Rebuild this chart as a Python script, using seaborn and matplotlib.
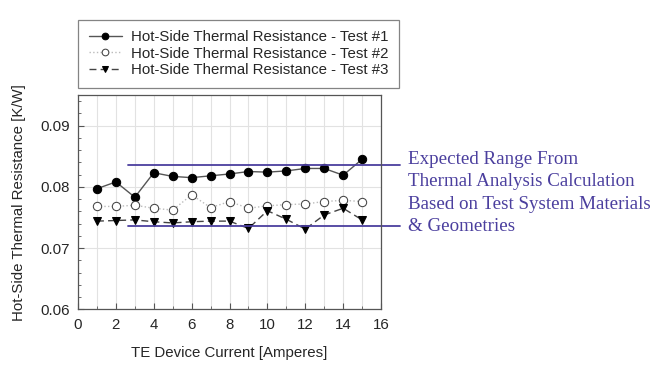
import matplotlib
matplotlib.use("Agg")
import matplotlib.pyplot as plt
import seaborn as sns
from matplotlib.ticker import MultipleLocator

sns.set_style("white")
plt.rcParams['font.family'] = ['Liberation Sans', 'DejaVu Sans']

current = list(range(1, 16))
test1 = [0.0797, 0.0808, 0.0783, 0.0823, 0.0817, 0.0815, 0.0818, 0.0821,
         0.0825, 0.0824, 0.0826, 0.0830, 0.0830, 0.0819, 0.0845]
test2 = [0.0768, 0.0768, 0.0770, 0.0765, 0.0762, 0.0787, 0.0766, 0.0776,
         0.0765, 0.0769, 0.0771, 0.0772, 0.0776, 0.0778, 0.0776]
test3 = [0.0744, 0.0745, 0.0746, 0.0743, 0.0741, 0.0743, 0.0744, 0.0744,
         0.0732, 0.0761, 0.0747, 0.0731, 0.0754, 0.0765, 0.0746]
labels = ["Hot-Side Thermal Resistance - Test #1",
          "Hot-Side Thermal Resistance - Test #2",
          "Hot-Side Thermal Resistance - Test #3"]
expected_range = [0.0736, 0.0836]
range_x = [2.65, 17.0]
note = ("Expected Range From\nThermal Analysis Calculation\n"
        "Based on Test System Materials\n& Geometries")

blue = "#4b3f9e"
fs = 10.8

fig = plt.figure(figsize=(6.68, 3.71), dpi=100)
ax = fig.add_axes([0.1168, 0.1663, 0.4536, 0.5777])

styles = [
    dict(color="#555555", linestyle="-", marker="o", markerfacecolor="black",
         markeredgecolor="black", markersize=6),
    dict(color="#bbbbbb", linestyle=":", marker="o", markerfacecolor="white",
         markeredgecolor="#444444", markersize=6),
    dict(color="#444444", linestyle=(0, (5, 3)), marker="v", markerfacecolor="black",
         markeredgecolor="black", markersize=6),
]
for vals, lab, st in zip([test1, test2, test3], labels, styles):
    sns.lineplot(x=current, y=vals, ax=ax, label=lab, linewidth=1, **st)

for yv in expected_range:
    ax.plot(range_x, [yv, yv], color=blue, linewidth=1.3, clip_on=False)
ax.text(17.45, 0.0790, note, color=blue, fontsize=13.7, family="Liberation Serif",
        va="center", ha="left", linespacing=1.42)

ax.set_xlim(0, 16)
ax.set_ylim(0.06, 0.095)
ax.xaxis.set_major_locator(MultipleLocator(2))
ax.xaxis.set_minor_locator(MultipleLocator(1))
ax.yaxis.set_major_locator(MultipleLocator(0.01))
ax.yaxis.set_minor_locator(MultipleLocator(0.002))
ax.grid(True, which="major", color="#e2e2e2", linewidth=0.8)
ax.grid(True, which="minor", axis="x", color="#e2e2e2", linewidth=0.8)
ax.tick_params(which="both", direction="in", length=4, color="#555555", labelsize=fs,
               bottom=True, left=True, pad=6)
ax.tick_params(which="minor", length=2.5)
for s in ax.spines.values():
    s.set_color("#555555")
    s.set_linewidth(0.9)

ax.set_xlabel("TE Device Current [Amperes]", fontsize=fs, labelpad=10)
ax.set_ylabel("Hot-Side Thermal Resistance [K/W]", fontsize=fs, labelpad=10)

leg = ax.legend(loc="lower left", bbox_to_anchor=(0.0, 1.033), borderaxespad=0,
                frameon=True, fontsize=fs, handlelength=2.2, handletextpad=0.65,
                borderpad=0.7, labelspacing=0.18, markerscale=0.8,
                fancybox=False, edgecolor="#666666")
leg.get_frame().set_linewidth(0.9)

fig.savefig("out.png", dpi=100)
